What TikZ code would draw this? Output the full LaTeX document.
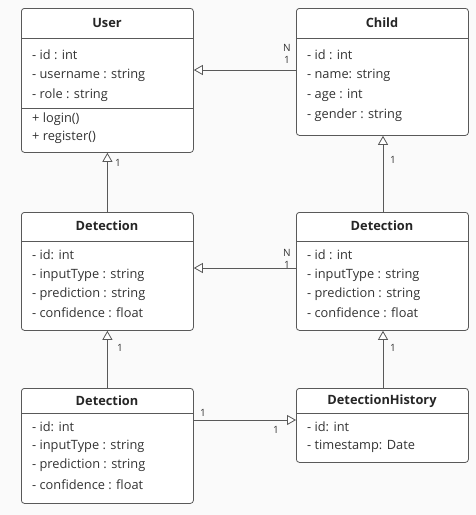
\documentclass[tikz,border=0pt]{standalone}
\usepackage{fontspec}
\setmainfont{Open Sans}
\usetikzlibrary{arrows.meta}
\begin{document}
\begin{tikzpicture}[x=1pt,y=-1pt,
  classbox/.style={draw=black!65,line width=0.8pt,fill=white,rounded corners=3pt,anchor=north west,inner sep=0pt,minimum width=172pt},
  sep/.style={draw=black!65,line width=0.8pt},
  title/.style={font=\fontsize{12.8}{14}\selectfont\bfseries,text=black!85,anchor=center},
  attr/.style={font=\fontsize{12.8}{14}\selectfont,text=black!80,anchor=west,inner sep=0pt},
  gen/.style={draw=black!65,line width=0.8pt,-{Triangle[open,length=9pt,width=10pt,fill=white]}},
  mult/.style={font=\fontsize{10}{11}\selectfont,text=black!80,inner sep=0pt}]
\fill[black!2] (0,0) rectangle (476,515);
\useasboundingbox (0,0) rectangle (476,515);
% boxes
\node[classbox,minimum height=144pt] (user) at (21,8) {};
\node[classbox,minimum height=127pt] (child) at (296,8) {};
\node[classbox,minimum height=118pt] (detl) at (21,212) {};
\node[classbox,minimum height=118pt] (detr) at (296,212) {};
\node[classbox,minimum height=115pt] (detb) at (21,388) {};
\node[classbox,minimum height=74pt] (hist) at (296,388) {};
% separators
\draw[sep] (21,38) -- (193,38);
\draw[sep] (21,108) -- (193,108);
\draw[sep] (296,38) -- (468,38);
\draw[sep] (21,241) -- (193,241);
\draw[sep] (296,241) -- (468,241);
\draw[sep] (21,413) -- (193,413);
\draw[sep] (296,413) -- (468,413);
% titles
\node[title] (tuser) at (107,23) {User};
\node[title] (tchild) at (382,23) {Child};
\node[title] (tdetl) at (107,226) {Detection};
\node[title] (tdetr) at (382,226) {Detection};
\node[title] (tdetb) at (107,401) {Detection};
\node[title] (thist) at (382,401) {DetectionHistory};
% User
\node[attr] (u1) at (32,55) {- id : int};
\node[attr] (u2) at (32,75) {- username : string};
\node[attr] (u3) at (32,95) {- role : string};
\node[attr] (u4) at (32,119) {+ login()};
\node[attr] (u5) at (32,137) {+ register()};
% Child
\node[attr] (c1) at (307,55) {- id : int};
\node[attr] (c2) at (307,75) {- name: string};
\node[attr] (c3) at (307,95) {- age : int};
\node[attr] (c4) at (307,115) {- gender : string};
% Detection left
\node[attr] (l1) at (32,255) {- id: int};
\node[attr] (l2) at (32,275) {- inputType : string};
\node[attr] (l3) at (32,294) {- prediction : string};
\node[attr] (l4) at (32,313) {- confidence : float};
% Detection right
\node[attr] (r1) at (307,255) {- id : int};
\node[attr] (r2) at (307,275) {- inputType : string};
\node[attr] (r3) at (307,294) {- prediction : string};
\node[attr] (r4) at (307,313) {- confidence : float};
% Detection bottom
\node[attr] (b1) at (32,427) {- id: int};
\node[attr] (b2) at (32,446) {- inputType : string};
\node[attr] (b3) at (32,465) {- prediction : string};
\node[attr] (b4) at (32,485) {- confidence : float};
% History
\node[attr] (h1) at (307,427) {- id: int};
\node[attr] (h2) at (307,446) {- timestamp: Date};
% connectors
\draw[gen] (child.west |- 0,70) -- (user.east |- 0,70);
\draw[gen] (detl.north) -- (user.south);
\draw[gen] (detr.north -| 383,0) -- (child.south -| 383,0);
\draw[gen] (detr.west |- 0,268) -- (detl.east |- 0,268);
\draw[gen] (detb.north) -- (detl.south);
\draw[gen] (hist.north -| 383,0) -- (detr.south -| 383,0);
\draw[gen] (detb.east |- 0,420) -- (hist.west |- 0,420);
% multiplicities
\node[mult] (m1) at (287,48) {N};
\node[mult] (m2) at (287,60) {1};
\node[mult] (m3) at (118,163) {1};
\node[mult] (m4) at (393,160) {1};
\node[mult] (m5) at (287,253) {N};
\node[mult] (m6) at (287,265) {1};
\node[mult] (m7) at (120,348) {1};
\node[mult] (m8) at (393,348) {1};
\node[mult] (m9) at (203,413) {1};
\node[mult] (m10) at (276,430) {1};
\end{tikzpicture}
\end{document}
